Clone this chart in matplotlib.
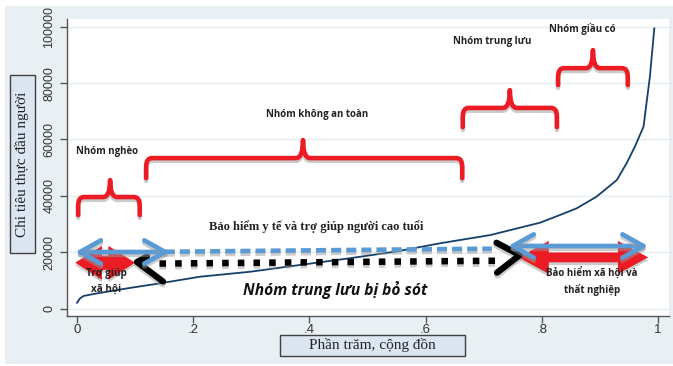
import numpy as np
import matplotlib.pyplot as plt
from matplotlib.path import Path
from matplotlib.patches import PathPatch, Polygon, Rectangle
import matplotlib.patheffects as pe

# Duong cong chi tieu (phan tram cong don -> chi tieu thuc dau nguoi)
pct = [0.0, 0.005, 0.011, 0.028, 0.086, 0.143, 0.212, 0.298, 0.38, 0.47,
       0.55, 0.625, 0.711, 0.797, 0.831, 0.86, 0.894, 0.929, 0.946, 0.96,
       0.975, 0.986, 0.9936]
chi_tieu = [2100, 3600, 4500, 5200, 7200, 9000, 11350, 13100, 15400, 17900,
            20300, 23200, 26100, 30500, 33200, 35600, 39700, 45600, 51600, 57400,
            64500, 82300, 99400]

x_ticks = [0, 0.2, 0.4, 0.6, 0.8, 1.0]
x_ticklabels = ['0', '.2', '.4', '.6', '.8', '1']
y_ticks = [0, 20000, 40000, 60000, 80000, 100000]

# Cac nhom (dau ngoac)
groups = ['Nhóm nghèo', 'Nhóm không an toàn', 'Nhóm trung lưu', 'Nhóm giầu có']
brace_x0 = [0.002, 0.119, 0.664, 0.828]
brace_x1 = [0.108, 0.663, 0.826, 0.948]
brace_mid = [0.057, 0.389, 0.745, 0.888]
brace_leg = [33200, 46300, 64400, 79300]
brace_bar = [39600, 53400, 71200, 85300]
brace_peak = [45600, 59800, 77500, 91700]
group_lx = [-0.002, 0.4126, 0.714, 0.869]
group_ly = [55600, 69000, 94900, 99200]
group_ha = ['left', 'center', 'center', 'center']

# Chinh sach
bhyt_x = [0.151, 0.714]
bhyt_y = [20200, 21300]
sot_x = [0.142, 0.72]
sot_y = [16000, 17000]

RED = '#ec1c24'
BLUE = '#5b9bd5'
NAVY = '#14406b'
BG = '#e8f0f3'

fig = plt.figure(figsize=(6.73, 3.66), dpi=100, facecolor='white')
fig.patches.append(Rectangle((5 / 673, 0.005), 1, 1 - 6 / 366 - 0.005,
                             transform=fig.transFigure, facecolor=BG,
                             edgecolor='none', zorder=-10))
ax = fig.add_axes([67 / 673, 1 - 316 / 366, 602 / 673, 297 / 366])
ax.set_facecolor('white')
ax.set_zorder(3)
ax.set_xlim(-0.0172, 1.0189)
ax.set_ylim(-2590, 102730)

for s in ['top', 'right']:
    ax.spines[s].set_visible(False)
for s in ['left', 'bottom']:
    ax.spines[s].set_color('#555555')
    ax.spines[s].set_linewidth(1.0)

ax.set_xticks(x_ticks)
ax.set_xticklabels(x_ticklabels, fontsize=9.5, family='Liberation Sans', color='#333333')
ax.set_yticks(y_ticks)
ax.set_yticklabels([str(v) for v in y_ticks], fontsize=9, family='Liberation Sans',
                   color='#333333', rotation=90, va='center')
ax.tick_params(direction='out', length=5, color='#555555', width=1)
ax.tick_params(axis='x', pad=1)
ax.yaxis.grid(True, color='#e4edf0', lw=1)
ax.set_axisbelow(True)

ax.plot(pct, chi_tieu, color=NAVY, lw=1.3, zorder=3)

shadow = [pe.SimpleLineShadow(offset=(0, -2), shadow_color='#999999', alpha=0.5), pe.Normal()]
pshadow = [pe.SimplePatchShadow(offset=(0, -2), shadow_rgbFace='#999999', alpha=0.5), pe.Normal()]


def brace(x0, x1, xc, yl, yb, yp):
    rx, ry = 0.01, 3000
    bx = 0.012
    verts = [(x0, yl), (x0, yb - ry), (x0, yb), (x0 + rx, yb),
             (xc - bx, yb), (xc, yb), (xc, yp), (xc, yb), (xc + bx, yb),
             (x1 - rx, yb), (x1, yb), (x1, yb - ry), (x1, yl)]
    codes = [Path.MOVETO, Path.LINETO, Path.CURVE3, Path.CURVE3,
             Path.LINETO, Path.CURVE3, Path.CURVE3, Path.CURVE3, Path.CURVE3,
             Path.LINETO, Path.CURVE3, Path.CURVE3, Path.LINETO]
    p = PathPatch(Path(verts, codes), facecolor='none', edgecolor=RED, lw=3.3,
                  capstyle='round', joinstyle='round', zorder=4)
    p.set_path_effects(shadow)
    ax.add_patch(p)


for i in range(len(groups)):
    brace(brace_x0[i], brace_x1[i], brace_mid[i], brace_leg[i], brace_bar[i], brace_peak[i])
    ax.text(group_lx[i], group_ly[i], groups[i], ha=group_ha[i], va='center',
            fontsize=7, fontweight='bold', family=['Open Sans', 'DejaVu Sans'],
            color='#222222', zorder=6)


def fat_arrow(x0, x1, y, body, head, hlen):
    verts = [(x0, y), (x0 + hlen, y + head / 2), (x0 + hlen, y + body / 2),
             (x1 - hlen, y + body / 2), (x1 - hlen, y + head / 2), (x1, y),
             (x1 - hlen, y - head / 2), (x1 - hlen, y - body / 2),
             (x0 + hlen, y - body / 2), (x0 + hlen, y - head / 2)]
    p = Polygon(verts, closed=True, facecolor=RED, edgecolor='none', zorder=5)
    p.set_path_effects(pshadow)
    ax.add_patch(p)


# tro giup xa hoi / bao hiem xa hoi
fat_arrow(-0.003, 0.100, 16300, 5000, 12000, 0.046)
fat_arrow(0.760, 0.983, 18200, 3500, 11700, 0.052)

# bao hiem y te (net dut xanh)
ax.plot(bhyt_x, bhyt_y, color=BLUE, lw=3.3, dashes=(2.2, 1.1), solid_capstyle='butt',
        zorder=5, path_effects=shadow)
# nhom trung luu bi bo sot (cham den)
ax.plot(sot_x, sot_y, color='black', lw=4.7, dashes=(1, 1.4), zorder=5,
        path_effects=shadow)

# mui ten den
ax.plot([0.1205, 0.1033, 0.148], [18500, 16550, 9640], color='black', lw=4.5,
        solid_capstyle='round', solid_joinstyle='round', zorder=6, path_effects=shadow)
ax.plot([0.722, 0.762, 0.723], [23400, 19000, 12800], color='black', lw=4.5,
        solid_capstyle='round', solid_joinstyle='round', zorder=6, path_effects=shadow)

# mui ten xanh hai chieu
for (a, b, y) in [(-0.003, 0.160, 20100), (0.742, 0.983, 22230)]:
    ax.annotate('', xy=(a, y), xytext=(b, y),
                arrowprops=dict(arrowstyle='<->,head_length=0.75,head_width=0.42',
                                color=BLUE, lw=3.4, mutation_scale=20,
                                shrinkA=0, shrinkB=0,
                                path_effects=shadow), zorder=7)

ax.text(0.411, 28970, 'Bảo hiểm y tế và trợ giúp người cao tuổi', ha='center', va='center',
        fontsize=9, fontweight='bold', family='Liberation Serif', color='#222222', zorder=6)
ax.text(0.050, 9800, 'Trợ giúp\nxã hội', ha='center', va='center', linespacing=1.6,
        fontsize=7.2, family=['Open Sans', 'DejaVu Sans'], fontweight='bold',
        color='#222222', zorder=8)
ax.text(0.445, 6630, 'Nhóm trung lưu bị bỏ sót', ha='center', va='center',
        fontsize=11.2, fontweight='bold', style='italic', family=['Open Sans', 'DejaVu Sans'],
        color='#111111', zorder=6)
ax.text(0.886, 9820, 'Bảo hiểm xã hội và\nthất nghiệp', ha='center', va='center',
        linespacing=1.6, fontsize=7, fontweight='bold', family=['Open Sans', 'DejaVu Sans'],
        color='#222222', zorder=8)


def label_box(x0, y0, x1, y1, txt, rot):
    # toa do pixel cua khung, goc tren trai
    fig.patches.append(Rectangle((x0 / 673, 1 - y1 / 366), (x1 - x0) / 673, (y1 - y0) / 366,
                                 transform=fig.transFigure, facecolor='#dce6f2',
                                 edgecolor='#404040', lw=1, zorder=1))
    fig.text((x0 + x1) / 2 / 673, 1 - (y0 + y1) / 2 / 366, txt, rotation=rot,
             ha='center', va='center', fontsize=11, family='Liberation Serif',
             color='#222222', zorder=2)


label_box(10, 75, 35, 253, 'Chi tiêu thực đầu người', 90)
label_box(280, 335, 465, 356, 'Phần trăm, cộng đồn', 0)

fig.savefig('out.png', dpi=100, facecolor='white')
